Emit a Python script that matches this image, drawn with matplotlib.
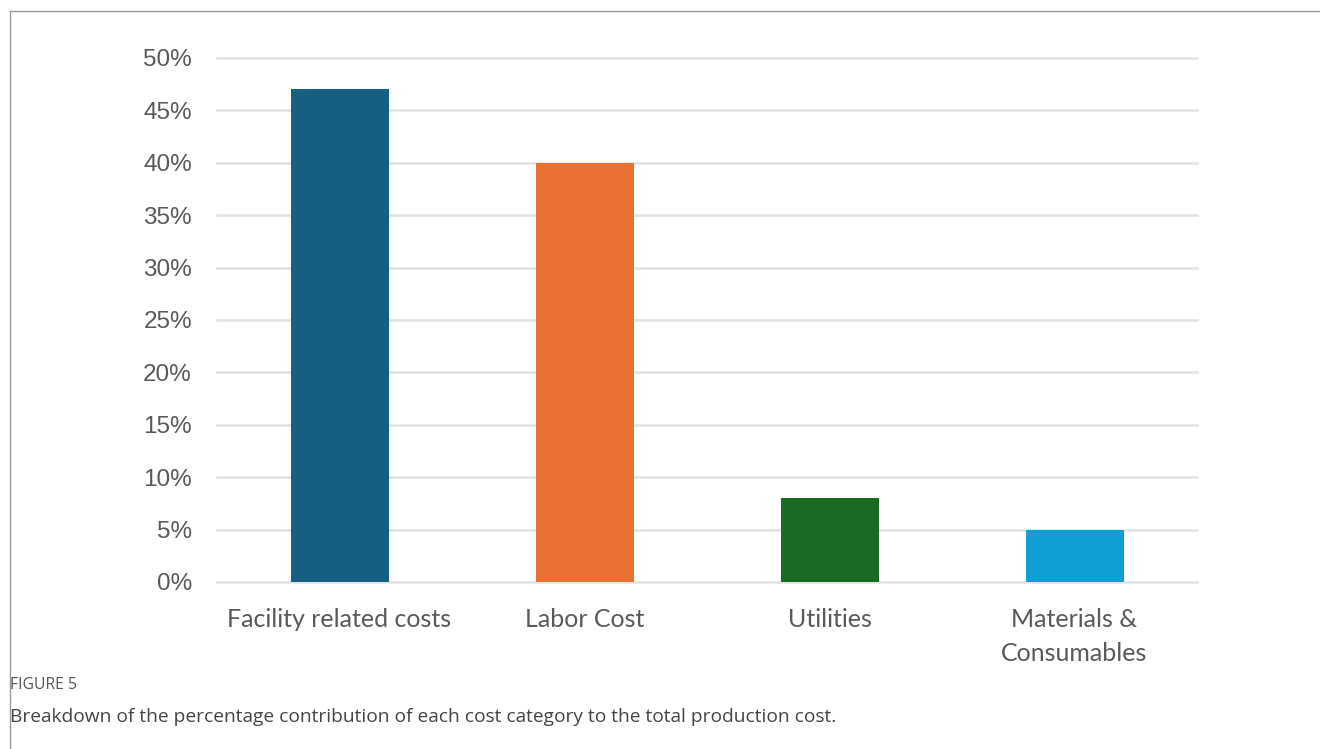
import matplotlib
matplotlib.use("Agg")
import matplotlib.pyplot as plt
from matplotlib.lines import Line2D
from matplotlib.ticker import FuncFormatter

categories = ["Facility related costs", "Labor Cost", "Utilities", "Materials &\nConsumables"]
values = [0.47, 0.40, 0.08, 0.05]
colors = ["#156082", "#E97132", "#196B24", "#0F9ED5"]
yticks = [0, 0.05, 0.10, 0.15, 0.20, 0.25, 0.30, 0.35, 0.40, 0.45, 0.50]

W, H = 1320, 749
fig = plt.figure(figsize=(W / 100, H / 100), dpi=100)
fig.patch.set_facecolor("white")

ax = fig.add_axes([217 / W, 1 - 582 / H, (1197 - 217) / W, (582 - 58) / H])
x = list(range(len(categories)))
ax.bar(x, values, width=0.4, color=colors, zorder=3)
ax.set_xlim(-0.5, 3.5)
ax.set_ylim(0, 0.5)
ax.set_yticks(yticks)
ax.yaxis.set_major_formatter(FuncFormatter(lambda v, p: f"{round(v * 100)}%"))
ax.set_xticks(x)
ax.set_xticklabels(categories, fontfamily="Lato", fontsize=18, color="#595959", linespacing=1.55)
for lab in ax.get_yticklabels():
    lab.set_fontfamily("Liberation Sans")
    lab.set_fontsize(17.5)
    lab.set_color("#595959")
ax.tick_params(axis="y", length=0, pad=18)
ax.tick_params(axis="x", length=0, pad=19)
for s in ax.spines.values():
    s.set_visible(False)
ax.set_axisbelow(True)
ax.yaxis.grid(True, color="#e3e3e3", linewidth=1.9)
for gl in ax.get_ygridlines():
    gl.set_clip_on(False)

# frame lines
fig.add_artist(Line2D([9.5 / W, 9.5 / W], [0, 1 - 11 / H], transform=fig.transFigure, color="#9a9a9a", lw=1.0))
fig.add_artist(Line2D([9.5 / W, 1], [1 - 11 / H, 1 - 11 / H], transform=fig.transFigure, color="#9a9a9a", lw=1.0))

fig.text(10 / W, 1 - 685 / H, "FIGURE 5", fontfamily="Open Sans", fontsize=11.3, color="#555555", va="center", ha="left")
fig.text(10 / W, 1 - 717 / H, "Breakdown of the percentage contribution of each cost category to the total production cost.",
         fontfamily="Open Sans", fontsize=13.75, color="#444444", va="center", ha="left")

fig.savefig("out.png", dpi=100)
